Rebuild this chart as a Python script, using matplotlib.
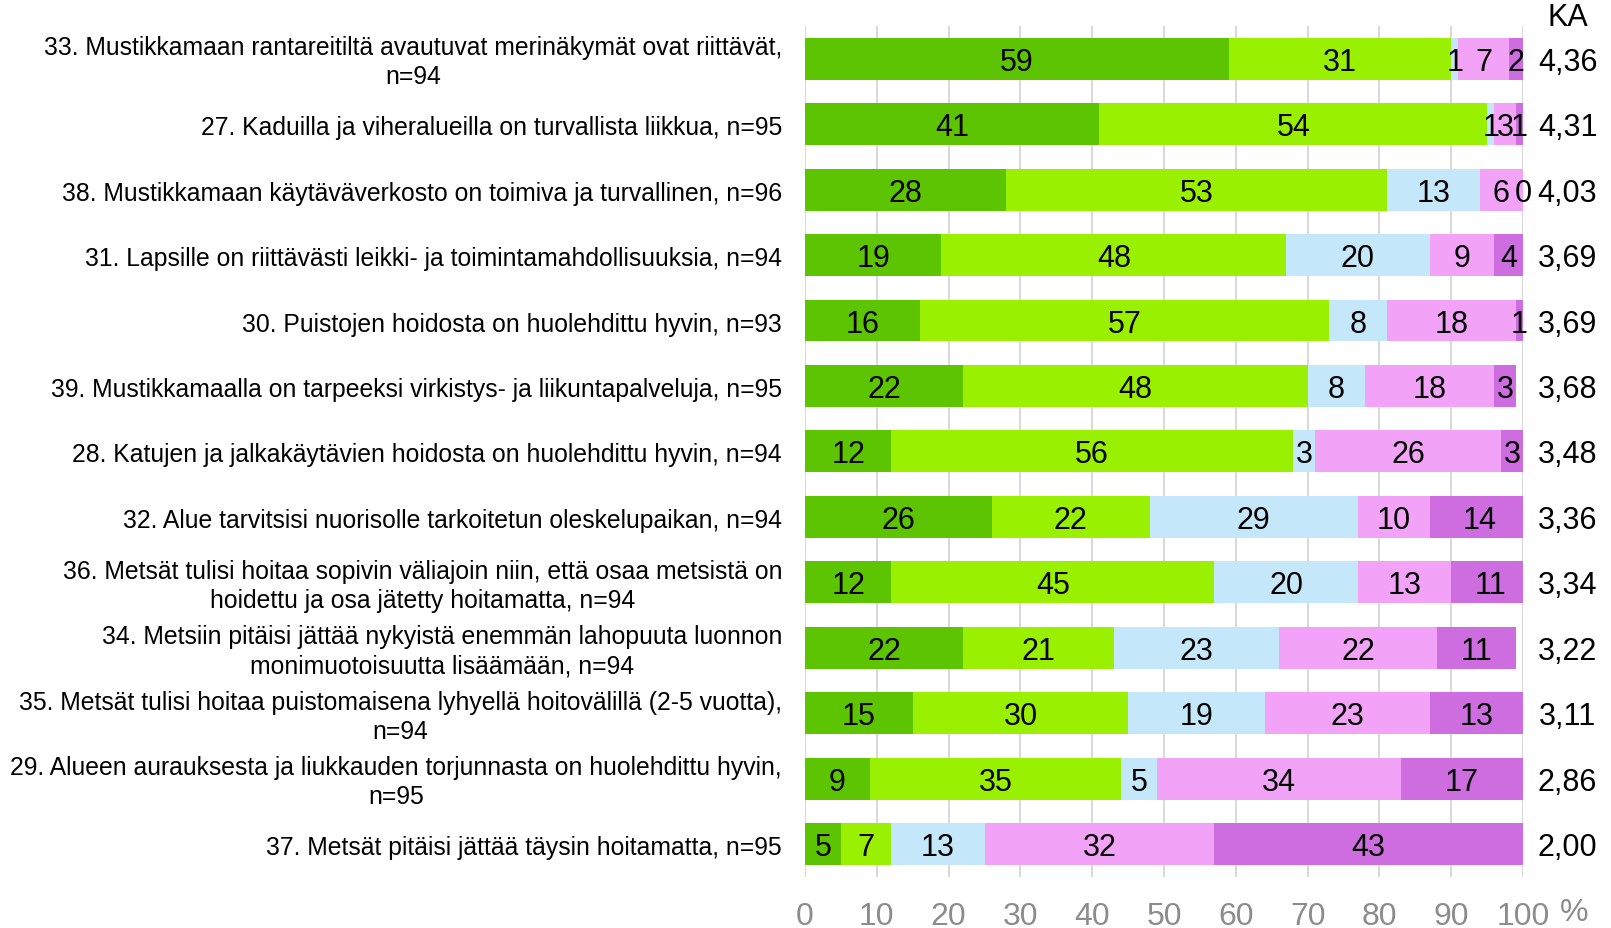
import matplotlib
matplotlib.use("Agg")
import matplotlib.pyplot as plt
from matplotlib.transforms import offset_copy
import numpy as np

plt.rcParams['font.family'] = ['Liberation Sans Narrow', 'Liberation Sans', 'DejaVu Sans']

statements = [
    "33. Mustikkamaan rantareitiltä avautuvat merinäkymät ovat riittävät,\nn=94",
    "27. Kaduilla ja viheralueilla on turvallista liikkua, n=95",
    "38. Mustikkamaan käytäväverkosto on toimiva ja turvallinen, n=96",
    "31. Lapsille on riittävästi leikki- ja toimintamahdollisuuksia, n=94",
    "30. Puistojen hoidosta on huolehdittu hyvin, n=93",
    "39. Mustikkamaalla on tarpeeksi virkistys- ja liikuntapalveluja, n=95",
    "28. Katujen ja jalkakäytävien hoidosta on huolehdittu hyvin, n=94",
    "32. Alue tarvitsisi nuorisolle tarkoitetun oleskelupaikan, n=94",
    "36. Metsät tulisi hoitaa sopivin väliajoin niin, että osaa metsistä on\nhoidettu ja osa jätetty hoitamatta, n=94",
    "34. Metsiin pitäisi jättää nykyistä enemmän lahopuuta luonnon\nmonimuotoisuutta lisäämään, n=94",
    "35. Metsät tulisi hoitaa puistomaisena lyhyellä hoitovälillä (2-5 vuotta),\nn=94",
    "29. Alueen aurauksesta ja liukkauden torjunnasta on huolehdittu hyvin,\nn=95",
    "37. Metsät pitäisi jättää täysin hoitamatta, n=95",
]

# percentage shares per answer option (fully agree ... fully disagree)
fully_agree    = [59, 41, 28, 19, 16, 22, 12, 26, 12, 22, 15,  9,  5]
somewhat_agree = [31, 54, 53, 48, 57, 48, 56, 22, 45, 21, 30, 35,  7]
neutral        = [ 1,  1, 13, 20,  8,  8,  3, 29, 20, 23, 19,  5, 13]
somewhat_dis   = [ 7,  3,  6,  9, 18, 18, 26, 10, 13, 22, 23, 34, 32]
fully_dis      = [ 2,  1,  0,  4,  1,  3,  3, 14, 11, 11, 13, 17, 43]

mean_scores = ["4,36", "4,31", "4,03", "3,69", "3,69", "3,68", "3,48",
               "3,36", "3,34", "3,22", "3,11", "2,86", "2,00"]

x_ticks = [0, 10, 20, 30, 40, 50, 60, 70, 80, 90, 100]

series = [fully_agree, somewhat_agree, neutral, somewhat_dis, fully_dis]
colors = ["#5CC400", "#99F000", "#C4E8FA", "#F3A3F7", "#CE6DDF"]

fig = plt.figure(figsize=(16.11, 9.29), dpi=100)
ax = fig.add_axes([0.4997, 0.055, 0.4457, 0.916])

# text sits slightly below the geometric centre so digits look centred on bars
txt = offset_copy(ax.transData, fig=fig, x=0, y=-3, units="dots")

y = np.arange(len(statements))
left = np.zeros(len(statements))
for vals, col in zip(series, colors):
    vals = np.array(vals, dtype=float)
    ax.barh(y, vals, left=left, height=0.64, color=col, zorder=3)
    for yi, l, v in zip(y, left, vals):
        ax.text(l + v / 2, yi, f"{int(v)}", ha="center", va="center",
                fontsize=22, color="black", zorder=4, transform=txt)
    left += vals

ax.set_xlim(0, 100)
ax.set_ylim(len(statements) - 0.5, -0.5)
ax.set_yticks([])
ax.set_xticks(x_ticks)
ax.set_xticklabels([str(t) for t in x_ticks], fontsize=23, color="#8C8C8C")
ax.tick_params(axis="x", length=0, pad=17)
ax.xaxis.grid(True, color="#D6D6D6", linewidth=1.3, zorder=0)
for side in ["top", "right", "left", "bottom"]:
    ax.spines[side].set_visible(False)

for yi, label in zip(y, statements):
    ax.text(-3.2, yi, label, ha="right", va="center", multialignment="center",
            fontsize=17.8, color="black", linespacing=1.25, transform=txt)

for yi, score in zip(y, mean_scores):
    ax.text(106.2, yi, score, ha="center", va="center", fontsize=22,
            color="black", transform=txt)

ax.text(106.2, -0.64, "KA", ha="center", va="center", fontsize=22, color="black",
        clip_on=False)
fig.text(1574 / 1611, 1 - 913 / 929, "%", ha="center", va="center",
         fontsize=23, color="#8C8C8C")

fig.savefig("out.png", dpi=100)
